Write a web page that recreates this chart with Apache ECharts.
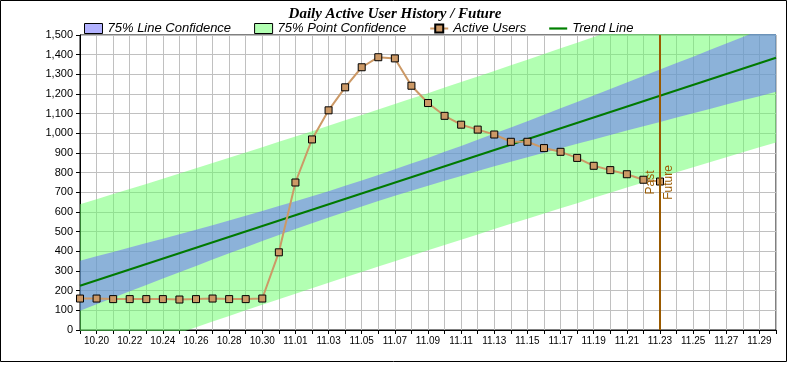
<!DOCTYPE html>
<html><head><meta charset="utf-8">
<script src="https://cdn.jsdelivr.net/npm/echarts@6/dist/echarts.min.js"></script>
<style>html,body{margin:0;padding:0;background:#fff}#c{width:790px;height:365px}</style>
</head><body><div id="c"></div>
<script>
const categories = ['10.19','10.20','10.21','10.22','10.23','10.24','10.25','10.26','10.27','10.28','10.29','10.30','10.31',
  '11.01','11.02','11.03','11.04','11.05','11.06','11.07','11.08','11.09','11.10','11.11','11.12','11.13','11.14','11.15',
  '11.16','11.17','11.18','11.19','11.20','11.21','11.22','11.23','11.24','11.25','11.26','11.27','11.28','11.29','11.30'];
const activeUsers = [160,160,157,157,157,157,155,157,160,157,157,160,395,750,969,1117,1234,1336,1387,1381,
  1242,1154,1089,1044,1019,994,957,957,925,906,875,835,813,792,764,755];
const trendEnds = [225, 1384];
const lineConfUpper = [352,375,397,419,442,464,487,510,533,557,581,605,630,655,680,706,733,760,788,817,846,875,906,936,967,999,1030,1062,1094,1127,1159,1192,1225,1258,1291,1324,1357,1390,1424,1457,1490,1524,1557];
const lineConfLower = [98,131,164,197,229,262,294,326,358,390,421,452,483,513,543,572,600,628,656,682,708,734,759,783,808,832,855,878,901,924,947,969,992,1014,1036,1058,1080,1102,1124,1146,1168,1189,1211];
const pointConfUpper = [639,665,691,717,743,769,796,822,849,876,903,929,957,984,1011,1038,1066,1093,1121,1149,1177,1204,1233,1261,1289,1317,1346,1374,1403,1432,1461,1490,1519,1548,1577,1606,1636,1665,1695,1725,1754,1784,1814];
const pointConfLower = [-189,-159,-130,-101,-72,-43,-15,14,43,71,100,128,156,184,212,240,268,295,323,350,378,405,432,459,486,513,540,566,593,619,645,672,698,724,750,776,802,827,853,878,904,929,954];
const markDate = '11.23';
const markLabels = ['Past', 'Future'];
const yMin = 0, yMax = 1500, yStep = 100;

const diff = (u, l) => u.map((v, i) => v - l[i]);
const chart = echarts.init(document.getElementById('c'), null, {renderer: 'canvas'});
const brown = '#9a5a00';
chart.setOption({
  animation: false,
  backgroundColor: '#fff',
  title: {
    text: 'Daily Active User History / Future', left: 'center', top: 2,
    textStyle: {fontFamily: 'Liberation Serif', fontWeight: 'bold', fontStyle: 'italic', fontSize: 15, color: '#000'}
  },
  graphic: [{type: 'rect', shape: {x: 0.5, y: 0.5, width: 786, height: 361}, style: {fill: 'none', stroke: '#000', lineWidth: 1}, silent: true}],
  legend: {
    left: 84, top: 22, padding: 0, itemGap: 23, itemWidth: 18, itemHeight: 10, symbolKeepAspect: true,
    textStyle: {fontFamily: 'Liberation Sans', fontStyle: 'italic', fontSize: 13, color: '#000'},
    data: [
      {name: '75% Line Confidence', icon: 'rect', itemStyle: {color: '#b2b2ff', borderColor: '#000', borderWidth: 1}},
      {name: '75% Point Confidence', icon: 'rect', itemStyle: {color: '#b2ffb2', borderColor: '#000', borderWidth: 1}},
      {name: 'Active Users'},
      {name: 'Trend Line', icon: 'path://M0,0h18v2.2h-18z', itemStyle: {color: '#008000', borderWidth: 0}}
    ]
  },
  grid: {left: 80, right: 14, top: 35, bottom: 35, show: true, borderColor: '#000', borderWidth: 1, backgroundColor: '#fff'},
  xAxis: {
    type: 'category', data: categories, boundaryGap: false,
    axisLine: {lineStyle: {color: '#000', width: 1}},
    axisTick: {show: true, interval: 0, length: 4, lineStyle: {color: '#000'}},
    axisLabel: {interval: (i) => i % 2 === 1, fontFamily: 'Liberation Sans', fontSize: 10, color: '#000', margin: 6},
    splitLine: {show: true, interval: 0, lineStyle: {color: '#c0c0c0', width: 1}}
  },
  yAxis: {
    type: 'value', min: yMin, max: yMax, interval: yStep,
    axisLine: {show: true, lineStyle: {color: '#000', width: 1}},
    axisTick: {show: true, length: 4, lineStyle: {color: '#000'}},
    axisLabel: {fontFamily: 'Liberation Sans', fontSize: 11, color: '#000', margin: 7,
      formatter: (v) => v.toLocaleString('en-US')},
    splitLine: {show: true, lineStyle: {color: '#c0c0c0', width: 1}}
  },
  series: [
    {name: '_pbase', type: 'line', stack: 'p', stackStrategy: 'all', data: pointConfLower, symbol: 'none',
      lineStyle: {opacity: 0}, silent: true, z: 1},
    {name: '75% Point Confidence', type: 'line', stack: 'p', stackStrategy: 'all', data: diff(pointConfUpper, pointConfLower),
      symbol: 'none', lineStyle: {opacity: 0}, itemStyle: {color: '#b2ffb2'},
      areaStyle: {color: 'rgba(102,255,102,0.5)', opacity: 1}, silent: true, z: 1},
    {name: '_lbase', type: 'line', stack: 'l', stackStrategy: 'all', data: lineConfLower, symbol: 'none',
      lineStyle: {opacity: 0}, silent: true, z: 2},
    {name: '75% Line Confidence', type: 'line', stack: 'l', stackStrategy: 'all', data: diff(lineConfUpper, lineConfLower),
      symbol: 'none', lineStyle: {opacity: 0}, itemStyle: {color: '#b2b2ff'},
      areaStyle: {color: 'rgba(102,102,255,0.5)', opacity: 1}, silent: true, z: 2},
    {name: 'Trend Line', type: 'line', data: [[categories[0], trendEnds[0]], [categories[categories.length - 1], trendEnds[1]]],
      symbol: 'none', lineStyle: {color: '#007a00', width: 2}, itemStyle: {color: '#007a00'}, z: 3},
    {name: 'Active Users', type: 'line', data: activeUsers, symbol: 'rect', symbolSize: 7,
      lineStyle: {color: '#cc9966', width: 2}, itemStyle: {color: '#cc9966', borderColor: '#000', borderWidth: 1}, z: 4,
      markLine: {
        silent: true, symbol: 'none', animation: false,
        lineStyle: {color: brown, width: 2, type: 'solid'},
        data: [
          {xAxis: markDate, label: {show: true, formatter: markLabels[0], position: 'insideMiddleTop', color: brown, fontFamily: 'Liberation Sans', fontSize: 12, distance: 3}},
          {xAxis: markDate, label: {show: true, formatter: markLabels[1], position: 'insideMiddleBottom', color: brown, fontFamily: 'Liberation Sans', fontSize: 12, distance: 3}}
        ]
      }}
  ]
});
</script></body></html>
